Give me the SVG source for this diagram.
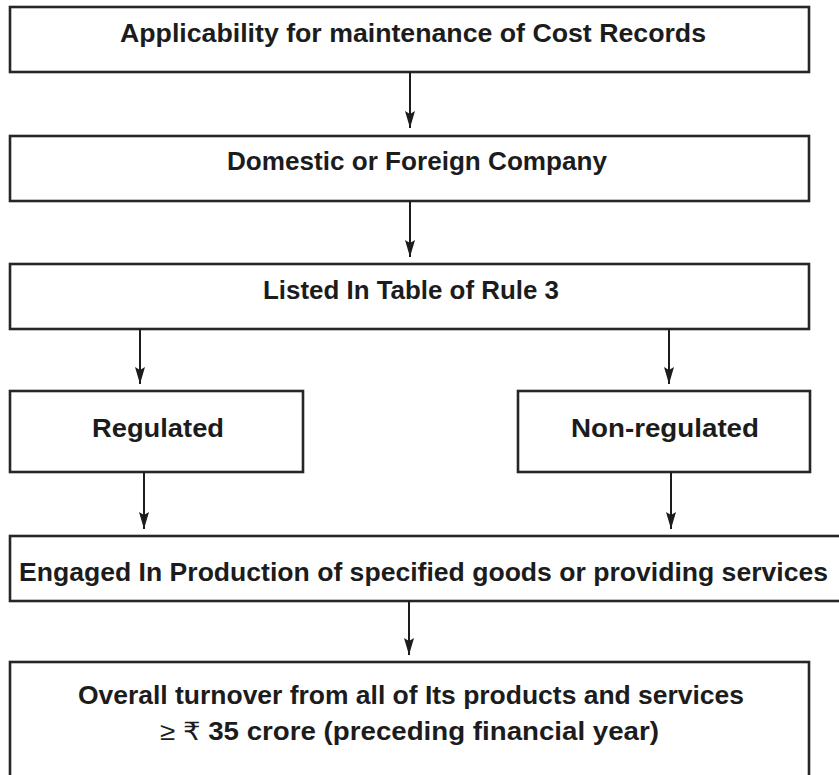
<svg xmlns="http://www.w3.org/2000/svg" width="839" height="775" viewBox="0 0 839 775">
  <style>
    .box { fill: #ffffff; stroke: #262626; stroke-width: 2.6; }
    .lbl { font-family: "Liberation Sans", "DejaVu Sans", "Noto Sans", sans-serif; font-weight: bold; font-size: 25px; fill: #1c1c1c; text-anchor: middle; }
    .sym { font-weight: normal; }
    .conn { stroke: #1c1c1c; stroke-width: 2; fill: none; marker-end: url(#arrow); }
  </style>
  <defs>
    <marker id="arrow" viewBox="0 0 17 10" refX="17" refY="5" markerWidth="17" markerHeight="10" markerUnits="userSpaceOnUse" orient="auto">
      <path d="M0,0 L17,5 L0,10 L3,5 Z" fill="#1c1c1c"/>
    </marker>
  </defs>
  <rect width="839" height="775" fill="#ffffff"/>

  <g id="node-applicability">
    <rect class="box" x="10" y="7" width="799" height="65"/>
    <text class="lbl" x="413" y="42" textLength="586" lengthAdjust="spacingAndGlyphs">Applicability for maintenance of Cost Records</text>
  </g>
  <g id="node-domestic">
    <rect class="box" x="10" y="136" width="799" height="65"/>
    <text class="lbl" x="417" y="170" textLength="380" lengthAdjust="spacingAndGlyphs">Domestic or Foreign Company</text>
  </g>
  <g id="node-listed">
    <rect class="box" x="10" y="264" width="799" height="65"/>
    <text class="lbl" x="411" y="299" textLength="296" lengthAdjust="spacingAndGlyphs">Listed In Table of Rule 3</text>
  </g>
  <g id="node-regulated">
    <rect class="box" x="10" y="391" width="293" height="81"/>
    <text class="lbl" x="158" y="437" textLength="132" lengthAdjust="spacingAndGlyphs">Regulated</text>
  </g>
  <g id="node-nonregulated">
    <rect class="box" x="518" y="391" width="292" height="81"/>
    <text class="lbl" x="665" y="437" textLength="188" lengthAdjust="spacingAndGlyphs">Non-regulated</text>
  </g>
  <g id="node-engaged">
    <rect class="box" x="10" y="536" width="840" height="65"/>
    <text class="lbl" x="423.5" y="581" textLength="809" lengthAdjust="spacingAndGlyphs">Engaged In Production of specified goods or providing services</text>
  </g>
  <g id="node-turnover">
    <rect class="box" x="10" y="662" width="799" height="130"/>
    <text class="lbl" x="411" y="704" textLength="666" lengthAdjust="spacingAndGlyphs">Overall turnover from all of Its products and services</text>
    <text class="lbl" x="409.5" y="740" textLength="499" lengthAdjust="spacingAndGlyphs"><tspan class="sym">≥ ₹</tspan> 35 crore (preceding financial year)</text>
  </g>

  <g id="connectors">
    <line class="conn" x1="410" y1="72" x2="410" y2="128"/>
    <line class="conn" x1="410" y1="201" x2="410" y2="257"/>
    <line class="conn" x1="140" y1="329" x2="140" y2="384"/>
    <line class="conn" x1="669" y1="329" x2="669" y2="384"/>
    <line class="conn" x1="144" y1="472" x2="144" y2="529"/>
    <line class="conn" x1="671" y1="472" x2="671" y2="529"/>
    <line class="conn" x1="409" y1="601" x2="409" y2="655"/>
  </g>
</svg>
